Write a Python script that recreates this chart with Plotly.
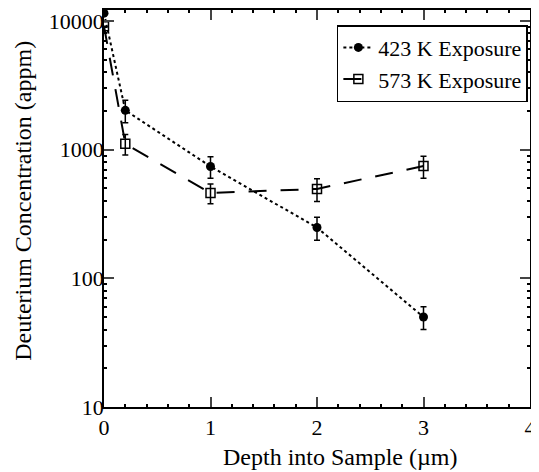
import plotly.graph_objects as go

depth = [0, 0.2, 1, 2, 3]
conc_423 = [11500, 2020, 740, 248, 50]
err_423 = [0, 400, 140, 50, 10]
conc_573 = [9100, 1110, 460, 495, 745]
err_573 = [0, 200, 80, 100, 145]
ytick_vals = [10, 100, 1000, 10000]
ytick_text = ["10", "100", "1000", "10000"]
xtick_vals = [0, 1, 2, 3, 4]
y_minor = [m * d for d in [10, 100, 1000] for m in range(2, 10)]
x_title = "Depth into Sample (µm)"
y_title = "Deuterium Concentration (appm)"

FONT = "Liberation Serif"

fig = go.Figure()
fig.add_trace(go.Scatter(
    x=depth, y=conc_423, name="423 K Exposure", mode="lines+markers",
    line=dict(color="black", width=2, dash="dot"),
    marker=dict(symbol="circle", size=9, color="black"),
    error_y=dict(type="data", array=err_423, visible=True, color="black", thickness=1.5, width=3),
))
fig.add_trace(go.Scatter(
    x=depth, y=conc_573, name="573 K Exposure", mode="lines+markers",
    line=dict(color="black", width=2, dash="18px,14px"),
    marker=dict(symbol="square-open", size=9, color="black", line=dict(width=1.5)),
    error_y=dict(type="data", array=err_573, visible=True, color="black", thickness=1.5, width=3),
))

fig.update_layout(
    width=531, height=464,
    margin=dict(l=96, r=9, t=2, b=65, autoexpand=False),
    paper_bgcolor="white", plot_bgcolor="white",
    font=dict(family=FONT, size=22, color="black"),
    showlegend=True,
    legend=dict(x=0.995, xanchor="right", y=0.962, yanchor="top",
                bgcolor="white", bordercolor="black", borderwidth=1.5,
                font=dict(family=FONT, size=22), tracegroupgap=0,
                itemwidth=30),
    xaxis=dict(range=[0, 4], tickvals=xtick_vals, ticks="inside", ticklen=10, tickwidth=1.5,
               tickfont=dict(family=FONT, size=22), ticklabelstandoff=0,
               showline=True, linecolor="black", linewidth=1.5, mirror="allticks",
               showgrid=False, zeroline=False, automargin=False,
               minor=dict(dtick=0.2, ticks="inside", ticklen=3, tickcolor="black", showgrid=False)),
    yaxis=dict(type="log", range=[1, 4.085], tickvals=ytick_vals, ticktext=ytick_text,
               tickfont=dict(family=FONT, size=22), ticklabelstandoff=-6,
               ticks="inside", ticklen=10, tickwidth=1.5,
               showline=True, linecolor="black", linewidth=1.5, mirror="allticks",
               showgrid=False, zeroline=False, automargin=False,
               minor=dict(tickvals=y_minor, ticks="inside", ticklen=3, tickcolor="black", showgrid=False)),
    annotations=[
        dict(text=x_title, xref="paper", yref="paper", x=0.554, y=-0.126,
             xanchor="center", yanchor="middle", showarrow=False,
             font=dict(family=FONT, size=24)),
        dict(text=y_title, xref="paper", yref="paper", x=-0.192, y=0.52,
             xanchor="center", yanchor="middle", showarrow=False, textangle=-90,
             font=dict(family=FONT, size=24)),
    ],
)

fig.write_html("out.html")
